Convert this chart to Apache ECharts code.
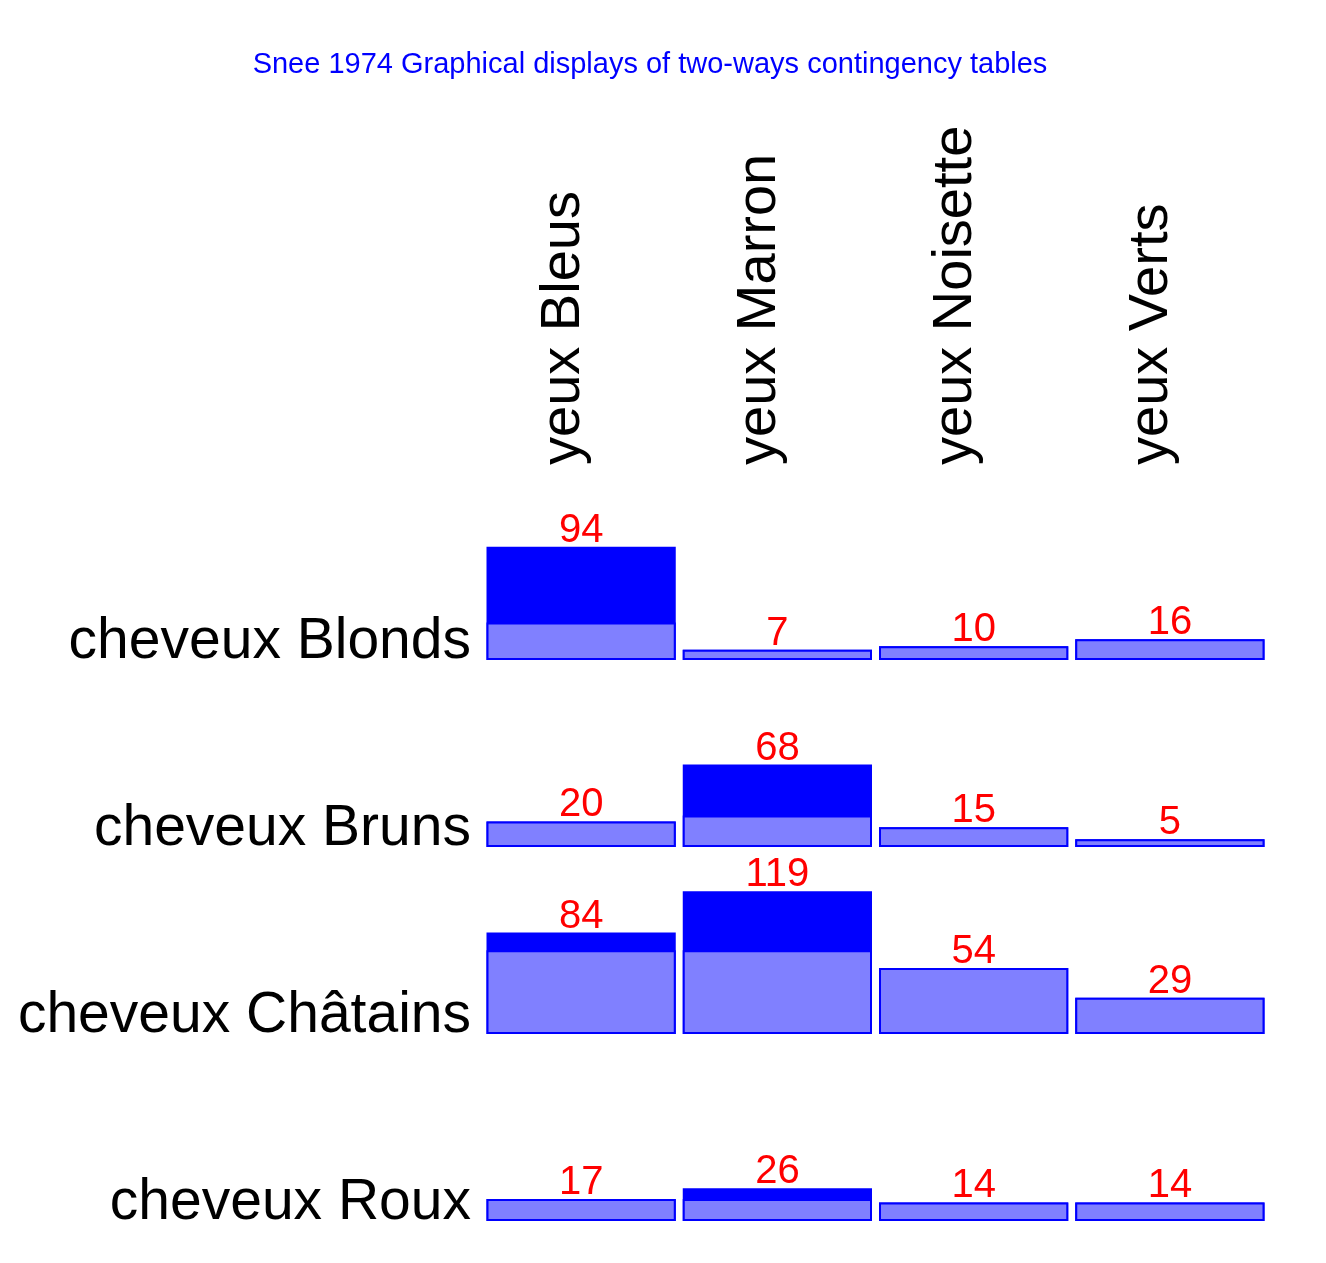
<!DOCTYPE html>
<html>
<head>
<meta charset="utf-8">
<script src="https://cdn.jsdelivr.net/npm/echarts@6/dist/echarts.min.js"></script>
<style>
  html, body { margin: 0; padding: 0; background: #fff; }
  #main { width: 1326px; height: 1263px; }
</style>
</head>
<body>
<div id="main"></div>
<script>
// Snee 1974, hair x eye colour counts
const eyeLabels = ['yeux Bleus', 'yeux Marron', 'yeux Noisette', 'yeux Verts'];
const hairLabels = ['cheveux Blonds', 'cheveux Bruns', 'cheveux Châtains', 'cheveux Roux'];
const countsBlonds = [94, 7, 10, 16];
const countsBruns = [20, 68, 15, 5];
const countsChatains = [84, 119, 54, 29];
const countsRoux = [17, 26, 14, 14];
// level of the light part of each row
const lightLevels = [30, 25, 69, 17];
// baseline of each row on the value axis
const rowBases = [474, 316, 158, 0];

const rows = [countsBlonds, countsBruns, countsChatains, countsRoux];
const cells = [];
rows.forEach((row, r) => {
    row.forEach((v, c) => {
        cells.push([c, rowBases[r], v, lightLevels[r]]);
    });
});

const FONT = '"Liberation Sans", Arial, sans-serif';
const DARK = '#0000ff';
const LIGHT = '#8080ff';

const chart = echarts.init(document.getElementById('main'));

const option = {
    animation: false,
    backgroundColor: '#ffffff',
    title: {
        text: 'Snee 1974 Graphical displays of two-ways contingency tables',
        left: 645,
        top: 45,
        textAlign: 'center',
        textStyle: { color: DARK, fontSize: 29, fontWeight: 'normal', fontFamily: FONT }
    },
    grid: { left: 483, right: 58, top: 465, bottom: 43 },
    xAxis: {
        type: 'category',
        position: 'top',
        data: eyeLabels,
        axisLine: { show: false },
        axisTick: { show: false },
        splitLine: { show: false },
        axisLabel: {
            rotate: 90,
            margin: 0,
            fontSize: 56,
            color: '#000',
            fontFamily: FONT,
            verticalAlign: 'bottom',
            lineHeight: 36
        }
    },
    yAxis: {
        type: 'value',
        min: 0,
        max: 638,
        interval: 158,
        axisLine: { show: false },
        axisTick: { show: false },
        splitLine: { show: false },
        axisLabel: {
            margin: 12,
            fontSize: 57,
            color: '#000',
            fontFamily: FONT,
            verticalAlign: 'bottom',
            lineHeight: 34,
            showMaxLabel: false,
            formatter: (v) => {
                const i = rowBases.indexOf(v);
                return i >= 0 ? hairLabels[i] : '';
            }
        }
    },
    series: [
        {
            type: 'custom',
            data: cells,
            encode: { x: 0, y: 1 },
            renderItem: (params, api) => {
                const col = api.value(0);
                const base = api.value(1);
                const obs = api.value(2);
                const light = Math.min(obs, api.value(3));
                const bw = api.size([1, 0])[0] - 9;
                const p0 = api.coord([col, base]);
                const pTop = api.coord([col, base + obs]);
                const pLight = api.coord([col, base + light]);
                const x0 = p0[0] - bw / 2;
                return {
                    type: 'group',
                    children: [
                        {
                            type: 'rect',
                            shape: { x: x0, y: pTop[1], width: bw, height: p0[1] - pTop[1] },
                            style: { fill: DARK, stroke: DARK, lineWidth: 2 }
                        },
                        {
                            type: 'rect',
                            shape: { x: x0, y: pLight[1], width: bw, height: p0[1] - pLight[1] },
                            style: { fill: LIGHT, stroke: DARK, lineWidth: 2 }
                        },
                        {
                            type: 'text',
                            style: {
                                text: String(obs),
                                x: p0[0],
                                y: pTop[1] - 17,
                                align: 'center',
                                verticalAlign: 'middle',
                                fontSize: 40,
                                fontFamily: FONT,
                                fill: '#ff0000'
                            }
                        }
                    ]
                };
            }
        }
    ]
};

chart.setOption(option);
</script>
</body>
</html>
